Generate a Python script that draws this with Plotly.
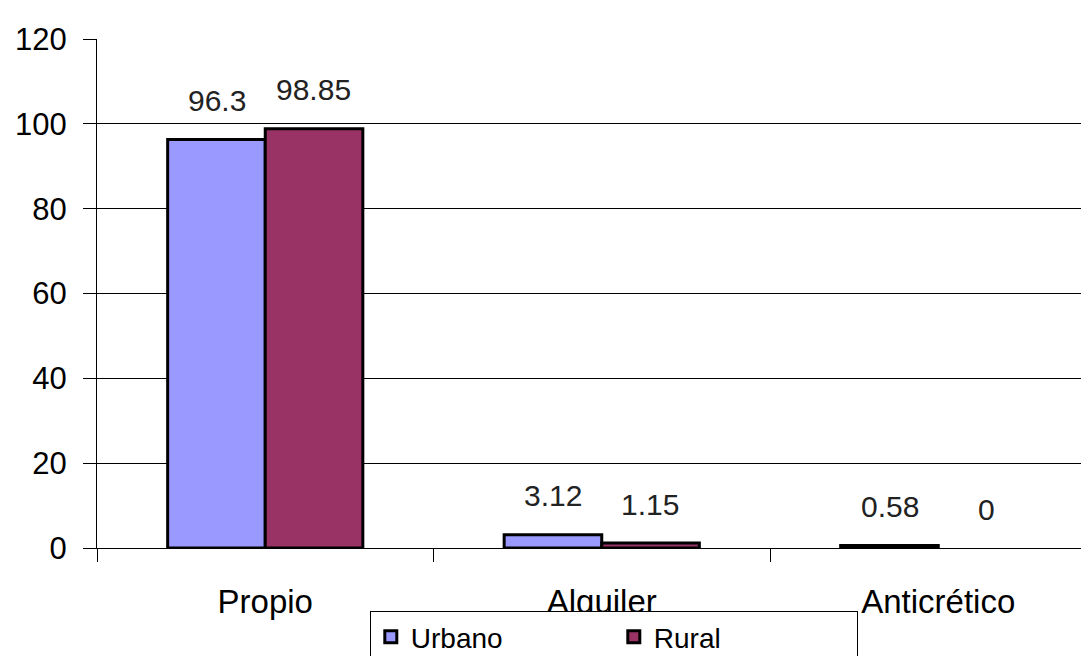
import plotly.graph_objects as go

# data
categories = ["Propio", "Alquiler", "Anticrético"]
urbano = [96.3, 3.12, 0.58]
rural = [98.85, 1.15, 0]
y_ticks = [0, 20, 40, 60, 80, 100, 120]

urbano_color = '#9999FF'
rural_color = '#993366'
font_family = 'Liberation Sans, Arial, sans-serif'


def outline_widths(vals):
    # no outline for empty bars, otherwise it thickens the axis
    return [3 if v > 0 else 0 for v in vals]


fig = go.Figure()

fig.add_trace(go.Bar(
    x=categories, y=urbano,
    name='Urbano',
    marker=dict(color=urbano_color, line=dict(color='black', width=outline_widths(urbano)))
))

fig.add_trace(go.Bar(
    x=categories, y=rural,
    name='Rural',
    marker=dict(color=rural_color, line=dict(color='black', width=outline_widths(rural)))
))

# value labels above the bars
bar_px = 97
for vals, shift in [(urbano, -bar_px / 2), (rural, bar_px / 2)]:
    for cat, v in zip(categories, vals):
        fig.add_annotation(
            x=cat, y=v, text=str(v),
            showarrow=False, xshift=shift, yshift=39,
            font=dict(size=30, color='#222222', family=font_family)
        )

fig.update_xaxes(
    range=[-0.5, 2.448],
    automargin=False,
    showline=True, linecolor='black', linewidth=1,
    ticks='outside', ticklen=13, tickcolor='black', tickwidth=1,
    tickson='boundaries',
    ticklabelstandoff=24,
    tickfont=dict(size=33, color='black', family=font_family),
    showgrid=False
)

fig.update_yaxes(
    range=[0, 120], tickvals=y_ticks,
    automargin=False,
    showline=True, linecolor='black', linewidth=1,
    ticks='outside', ticklen=13, tickcolor='black', tickwidth=1,
    ticklabelstandoff=10,
    tickfont=dict(size=31, color='black', family=font_family),
    showgrid=True, gridcolor='black', gridwidth=1,
    zeroline=False
)

# the page body adds 8px, so margins are 8px less than the target positions
fig.update_layout(
    width=1089, height=656,
    barmode='group', bargap=0.42, bargroupgap=0,
    plot_bgcolor='white', paper_bgcolor='white',
    margin=dict(l=89, r=8, t=31, b=116, autoexpand=False),
    font=dict(family=font_family, color='black'),
    legend=dict(
        orientation='h',
        x=0.275, xanchor='left',
        y=-0.124, yanchor='top',
        bordercolor='black', borderwidth=1,
        bgcolor='white',
        itemwidth=30,
        entrywidth=198,
        font=dict(size=28, color='black', family=font_family)
    )
)

fig.write_html("out.html")
